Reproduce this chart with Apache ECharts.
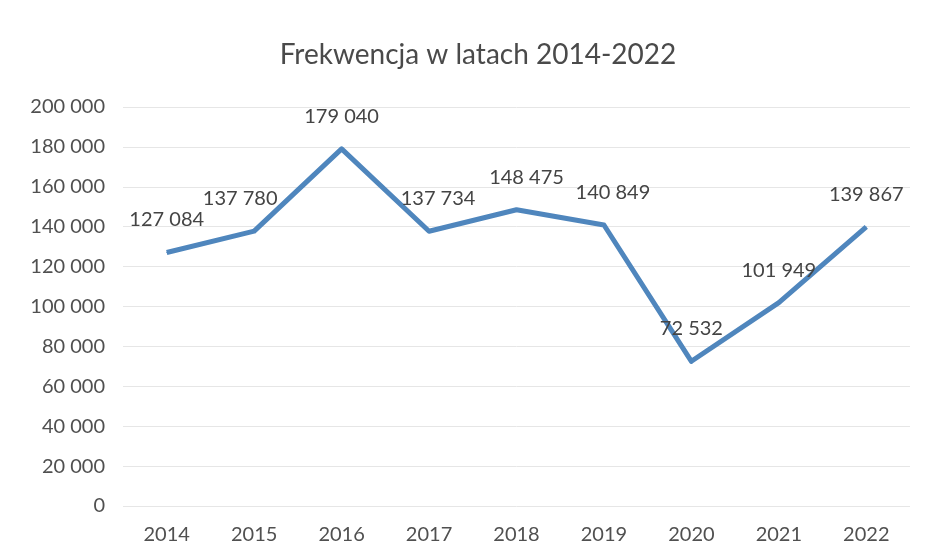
<!DOCTYPE html>
<html><head><meta charset="utf-8">
<script src="https://cdn.jsdelivr.net/npm/echarts@6/dist/echarts.min.js"></script>
<style>html,body{margin:0;padding:0;background:#fff}#c{width:932px;height:557px}</style>
</head><body><div id="c"></div>
<script>
const years = ['2014','2015','2016','2017','2018','2019','2020','2021','2022'];
const attendance = [127084, 137780, 179040, 137734, 148475, 140849, 72532, 101949, 139867];
const labelShiftX = [0, -14, 0, 9, 10, 9, 0, 0, 0];

function fmt(v){ return String(v).replace(/\B(?=(\d{3})+(?!\d))/g, ' '); }

const chart = echarts.init(document.getElementById('c'), null, {renderer:'canvas'});
chart.setOption({
  backgroundColor:'#ffffff',
  animation:false,
  title:{ text:'Frekwencja w latach 2014-2022', left:473, textAlign:'center', top:36,
    textStyle:{ fontFamily:'Lato', fontSize:28, fontWeight:'normal', color:'#4a4a4a' } },
  grid:{ left:123, right:22, top:107, bottom:51 },
  xAxis:{ type:'category', data:years, boundaryGap:true,
    axisLine:{ show:false }, axisTick:{ show:false },
    axisLabel:{ fontFamily:'Lato', fontSize:20, color:'#505050', margin:19 } },
  yAxis:{ type:'value', min:0, max:200000, interval:20000,
    axisLine:{ show:false }, axisTick:{ show:false },
    splitLine:{ lineStyle:{ color:'#e6e6e6', width:1 } },
    axisLabel:{ fontFamily:'Lato', fontSize:20, color:'#505050', margin:18, formatter:fmt } },
  series:[{
    type:'line', data:attendance.map((v,i)=>({ value:v, label:{ offset:[labelShiftX[i],0] } })),
    symbol:'circle', symbolSize:1, showSymbol:true,
    lineStyle:{ color:'#4f86bd', width:5, join:'round' },
    itemStyle:{ color:'#4f86bd' },
    label:{ show:true, position:'top', distance:22, fontFamily:'Lato', fontSize:20, color:'#444',
      formatter:p=>fmt(p.value) }
  }]
});
</script></body></html>
